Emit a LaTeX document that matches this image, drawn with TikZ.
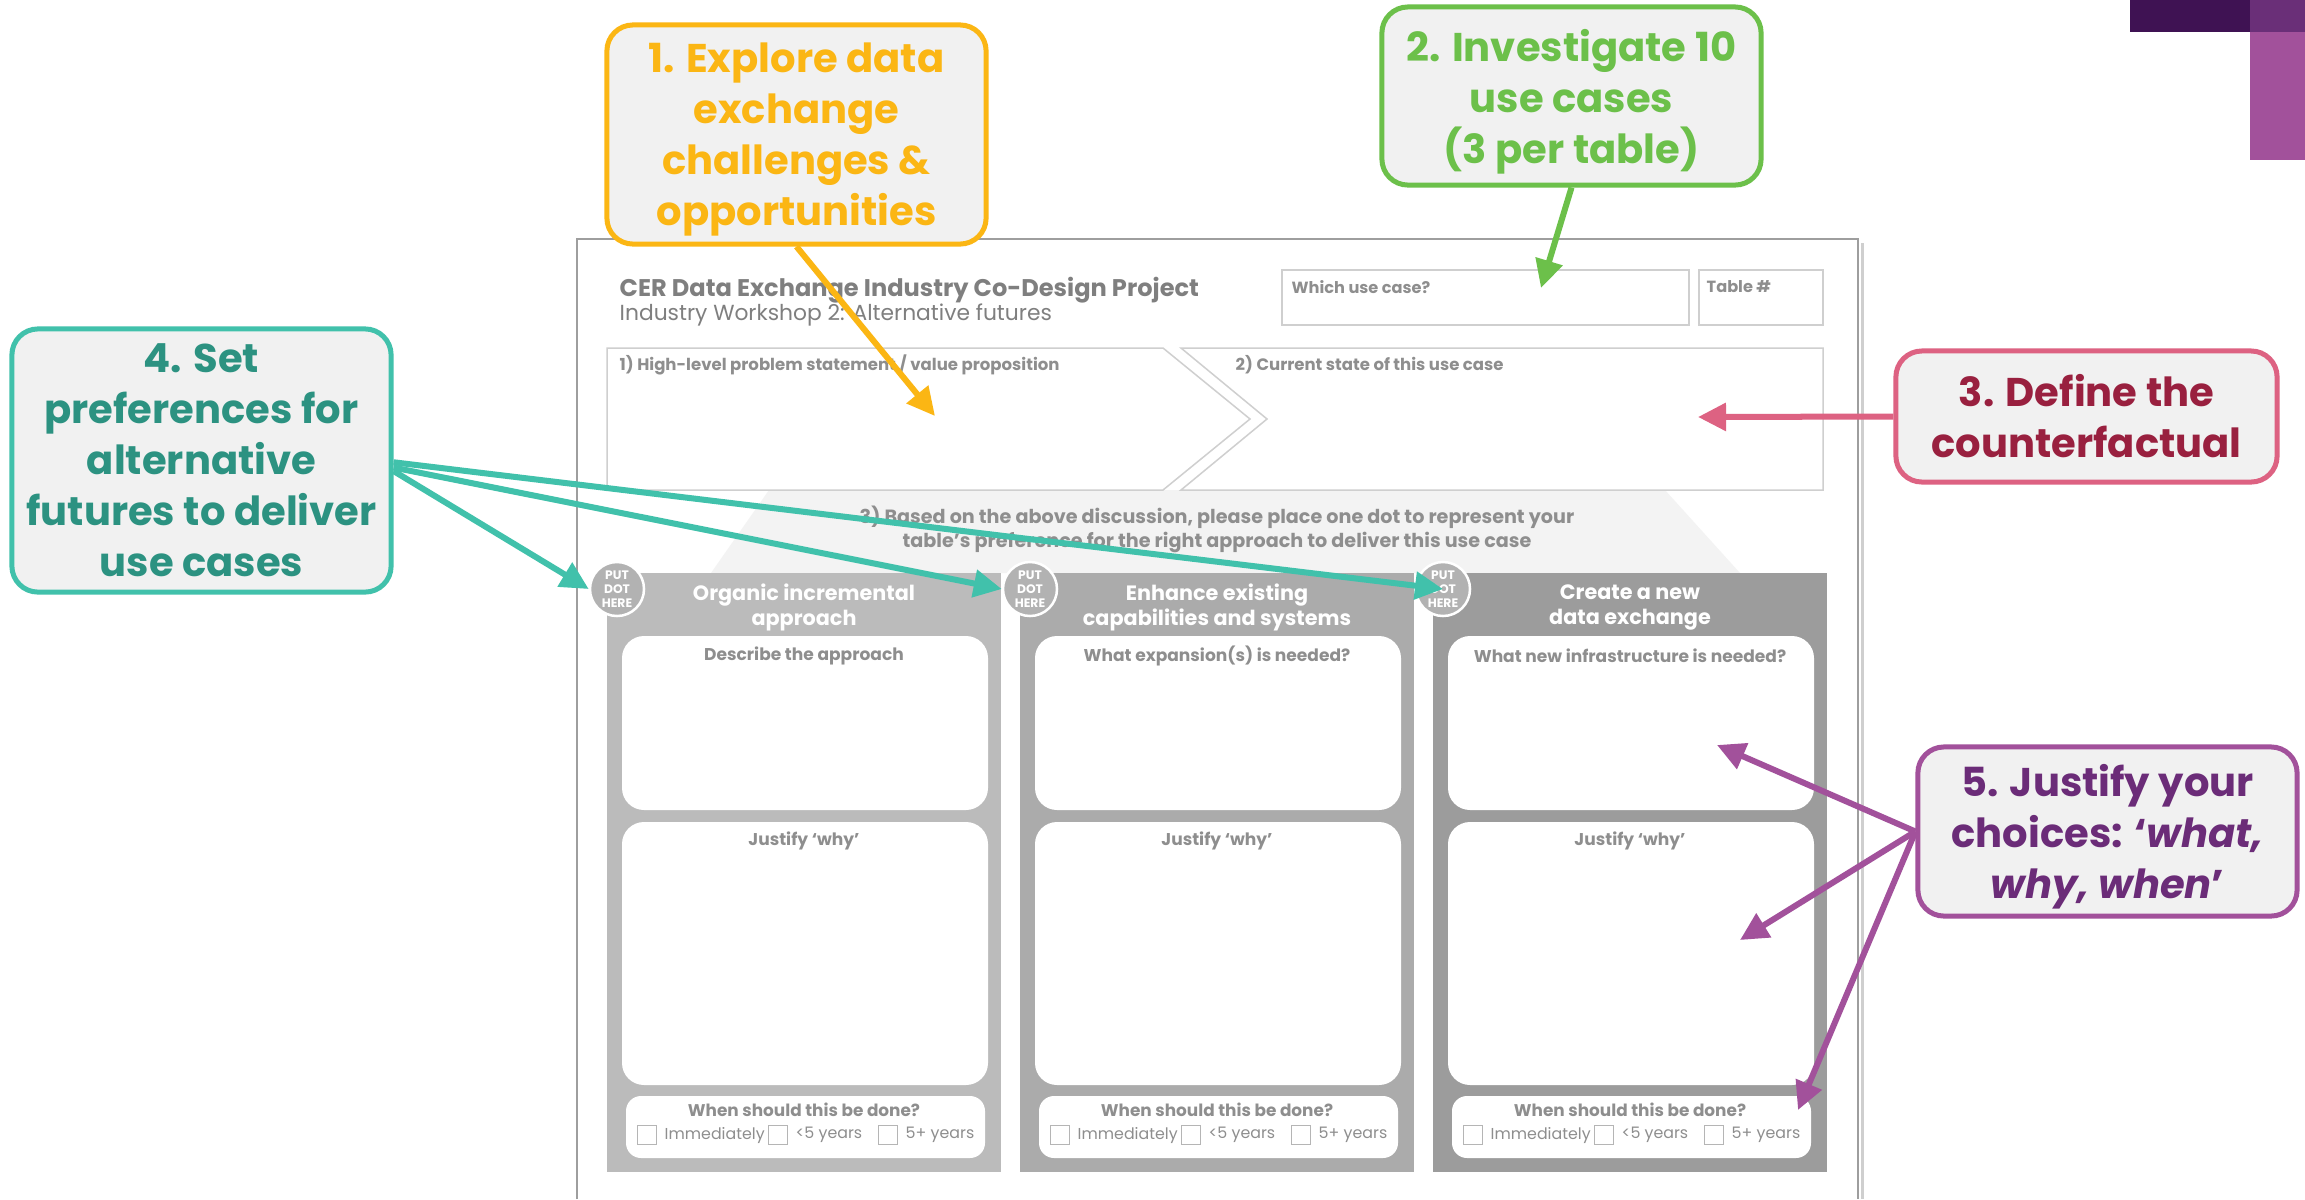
\documentclass[tikz,border=0pt]{standalone}
\usepackage{fontspec}
\setmainfont{Poppins}
\usetikzlibrary{arrows.meta}
\definecolor{orangecall}{HTML}{FBB614}
\definecolor{greencall}{HTML}{6CC04A}
\definecolor{pinkcall}{HTML}{DD6282}
\definecolor{pinktext}{HTML}{99203F}
\definecolor{tealcall}{HTML}{41C1AB}
\definecolor{tealtext}{HTML}{2C9281}
\definecolor{purplecall}{HTML}{A2519B}
\definecolor{purpletext}{HTML}{6B2C78}
\definecolor{callfill}{HTML}{F1F1F1}
\definecolor{formgray}{HTML}{8E8E8E}
\definecolor{titlegray}{HTML}{7F7F7F}
\definecolor{linegray}{HTML}{CFCFCF}
\definecolor{framegray}{HTML}{9E9E9E}
\definecolor{colone}{HTML}{BBBBBB}
\definecolor{coltwo}{HTML}{ABABAB}
\definecolor{colthree}{HTML}{9C9C9C}
\definecolor{dotgray}{HTML}{B2B2B2}
\definecolor{boxgray}{HTML}{B5B5B5}
\definecolor{wedgegray}{HTML}{F3F3F3}
\definecolor{darkplum}{HTML}{3F1253}
\definecolor{midplum}{HTML}{6A2F78}
\definecolor{lightplum}{HTML}{A2519B}
\newcommand{\nodepth}[1]{\raisebox{0pt}[\height][0pt]{#1}}

\begin{document}
\begin{tikzpicture}[x = 0.01cm, y = -0.01cm,
        callout/.style = {draw, rounded corners = 0.26cm, line width = 0.05cm, fill = callfill,
            align = center, inner sep = 0pt, font = \bfseries\fontsize{11.4}{14.5}\selectfont},
        callarrow/.style = {line width = 0.06cm, -{Triangle[length = 0.28cm, width = 0.27cm]}},
        formtext/.style = {text = formgray, inner sep = 0pt},
        dotmark/.style = {circle, minimum size = 0.54cm, inner sep = 0pt, fill = dotgray, draw = white,
            line width = 0.025cm, text = white, align = center, font = \bfseries\fontsize{3.5}{3.9}\selectfont},
        tickbox/.style = {draw = boxgray, fill = white, minimum size = 0.19cm, inner sep = 0pt, line width = 0.3pt}
    ]
                \useasboundingbox (0,0) rectangle (2305,1199);
                \fill[white] (0,0) rectangle (2305,1199);

                % corner bars
                \fill[darkplum] (2130,0) rectangle (2305,32);
                \fill[lightplum] (2250,0) rectangle (2305,160);
                \fill[midplum] (2250,0) rectangle (2305,32);

                % worksheet
                \draw[linegray, line width = 0.03cm] (1862,243) -- (1862,1199);
                \draw[framegray, line width = 0.015cm] (577,1199) -- (577,239) -- (1858,239) -- (1858,1199);
                \node[formtext, anchor = west, text = titlegray, font = \bfseries\fontsize{6.85}{8}\selectfont] (title) at (619,290) {CER Data Exchange Industry Co-Design Project};
                \node[formtext, anchor = west, text = titlegray, font = \fontsize{6.2}{7}\selectfont] (subtitle) at (619,315) {Industry Workshop 2: Alternative futures};
                \draw[linegray, line width = 0.015cm] (1282,270) rectangle (1689,325);
                \draw[linegray, line width = 0.015cm] (1699,270) rectangle (1823,325);
                \node[formtext, anchor = west, font = \bfseries\fontsize{4.6}{5}\selectfont] (usecase) at (1291,287) {Which use case?};
                \node[formtext, anchor = west, font = \bfseries\fontsize{4.6}{5}\selectfont] (tableno) at (1706,287) {Table \#};

                \fill[wedgegray] (769,490) -- (1665,490) -- (1740,573) -- (711,573) -- cycle;
                \draw[linegray, line width = 0.015cm, fill = white] (607,348) -- (1163,348) -- (1250,419) -- (1163,490) -- (607,490) -- cycle;
                \draw[linegray, line width = 0.015cm, fill = white] (1181,348) -- (1823,348) -- (1823,490) -- (1181,490) -- (1267,419) -- cycle;
                \node[formtext, anchor = west, font = \bfseries\fontsize{4.7}{5}\selectfont] (problem) at (619,365) {1) High-level problem statement / value proposition};
                \node[formtext, anchor = west, font = \bfseries\fontsize{4.7}{5}\selectfont] (current) at (1235,365) {2) Current state of this use case};
                \node[formtext, align = center, font = \bfseries\fontsize{5.45}{6.8}\selectfont] (basedon) at (1217,529) {3) Based on the above discussion, please place one dot to represent your\\table’s preference for the right approach to deliver this use case};

                \foreach \cx/\col/\head/\qa [count = \i] in {607/colone/{Organic incremental\\approach}/{Describe the approach},
                        1020/coltwo/{Enhance existing\\capabilities and systems}/{What expansion(s) is needed?},
                        1433/colthree/{Create a new\\data exchange}/{What new infrastructure is needed?}}{
                    \fill[\col] (\cx,573) rectangle (\cx+394,1172);
                    \fill[white, rounded corners = 0.22cm] (\cx+15,636) rectangle (\cx+381,810);
                    \fill[white, rounded corners = 0.22cm] (\cx+15,822) rectangle (\cx+381,1085);
                    \fill[white, rounded corners = 0.15cm] (\cx+19,1096) rectangle (\cx+378,1158);
                    \node[formtext, text = white, align = center, font = \bfseries\fontsize{5.9}{7.1}\selectfont] (head\i) at (\cx+197,607) {\head};
                    \node[dotmark] (dot\i) at (\cx+10,589) {PUT\\DOT\\HERE};
                    \node[formtext, font = \bfseries\fontsize{4.85}{6}\selectfont] (qa\i) at (\cx+197,656) {\qa};
                    \node[formtext, font = \bfseries\fontsize{4.85}{6}\selectfont] (why\i) at (\cx+197,841) {Justify ‘why’};
                    \node[formtext, font = \bfseries\fontsize{4.8}{6}\selectfont] (when\i) at (\cx+197,1110) {When should this be done?};
                    \node[tickbox] (now\i) at (\cx+40,1135) {};
                    \node[formtext, anchor = west, font = \fontsize{4.5}{5}\selectfont] (nowlbl\i) at (\cx+57,1135) {Immediately};
                    \node[tickbox] (five\i) at (\cx+171,1135) {};
                    \node[formtext, anchor = west, font = \fontsize{4.5}{5}\selectfont] (fivelbl\i) at (\cx+188,1135) {<5 years};
                    \node[tickbox] (late\i) at (\cx+281,1135) {};
                    \node[formtext, anchor = west, font = \fontsize{4.5}{5}\selectfont] (latelbl\i) at (\cx+298,1135) {5+ years};
                }

                % callouts
                \node[callout, draw = orangecall, text = orangecall, minimum width = 3.79cm, minimum height = 2.19cm] (explore) at (796.5,134.5) {1. Explore data\\exchange\\challenges \&\\\nodepth{opportunities}};
                \node[callout, draw = greencall, text = greencall, minimum width = 3.79cm, minimum height = 1.78cm] (investigate) at (1571.5,96) {2. Investigate 10\\use cases\\\nodepth{(3 per table)}};
                \node[callout, draw = pinkcall, text = pinktext, minimum width = 3.81cm, minimum height = 1.31cm] (define) at (2086.5,416.5) {3. Define the\\counterfactual};
                \node[callout, draw = tealcall, text = tealtext, minimum width = 3.79cm, minimum height = 2.63cm] (prefs) at (201.5,460.5) {4. Set\\preferences for\\alternative\\futures to deliver\\use cases};
                \node[callout, draw = purplecall, text = purpletext, minimum width = 3.79cm, minimum height = 1.69cm] (justify) at (2107.5,831.5) {5. Justify your\\choices: ‘\textit{what,}\\\nodepth{\textit{why, when}’}};

                \coordinate (explorept) at (935,416);
                \coordinate (usecasept) at (1541,288);
                \coordinate (currentpt) at (1698,417);
                \coordinate (infrapt) at (1717,745);
                \coordinate (whypt) at (1740,940);
                \coordinate (whenpt) at (1798,1110);

                \draw[callarrow, orangecall] (explore.south) -- (explorept);
                \draw[callarrow, greencall] (investigate.south) -- (usecasept);
                \draw[callarrow, pinkcall] (define.west) -- (currentpt);
                \draw[callarrow, tealcall] ([yshift = -3pt]prefs.east) -- (dot1.west);
                \draw[callarrow, tealcall] ([yshift = -2pt]prefs.east) -- (dot2.west);
                \draw[callarrow, tealcall] ([yshift = -0.5pt]prefs.east) -- (dot3.center);
                \draw[callarrow, purplecall] (justify.west) -- (infrapt);
                \draw[callarrow, purplecall] (justify.west) -- (whypt);
                \draw[callarrow, purplecall] (justify.west) -- (whenpt);
\end{tikzpicture}
\end{document}
